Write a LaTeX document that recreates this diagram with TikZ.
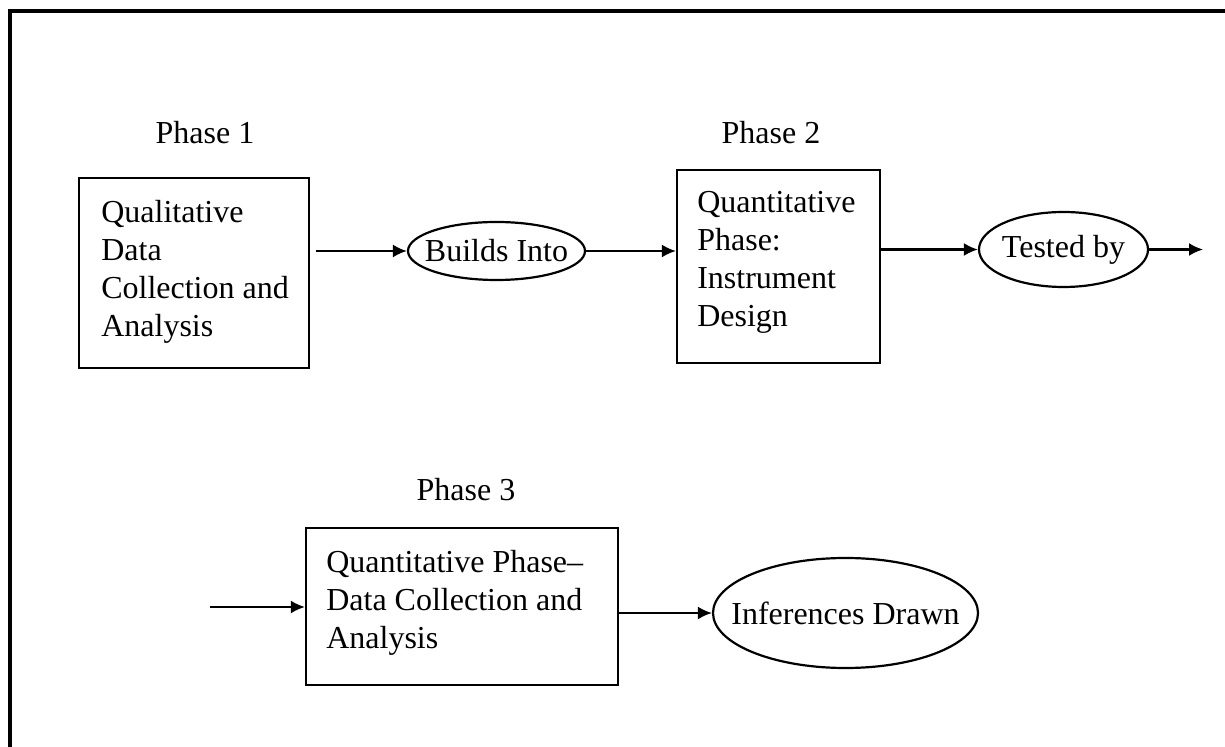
\documentclass[tikz,border=0pt]{standalone}
\usepackage{fontspec}
\setmainfont{Liberation Serif}
\usetikzlibrary{shapes.geometric,arrows.meta}
\tikzset{
  boxnode/.style={draw, line width=1.1pt, rectangle, inner sep=0pt},
  ovalnode/.style={draw, line width=1.1pt, ellipse, inner sep=0pt, font=\fontsize{16}{19}\selectfont},
  boxtext/.style={anchor=north west, inner sep=0pt, align=left, font=\fontsize{16}{19}\selectfont},
  phaselabel/.style={inner sep=0pt, font=\fontsize{16}{19}\selectfont},
  arr/.style={line width=1.1pt, -{Latex[length=7pt,width=6.5pt]}},
  frame/.style={line width=1.6pt}
}
\begin{document}
\begin{tikzpicture}[x=0.5pt,y=-0.5pt]
\useasboundingbox (0,0) rectangle (1225,747);
\fill[white] (0,0) rectangle (1225,747);
% outer frame (top and left edges visible)
\coordinate (fa) at (10,760);
\coordinate (fb) at (10,11);
\coordinate (fc) at (1240,11);
\draw[frame] (fa) -- (fb) -- (fc);

% phase labels
\node[phaselabel] (p1) at (205,133) {Phase 1};
\node[phaselabel] (p2) at (771,133) {Phase 2};
\node[phaselabel] (p3) at (466,490) {Phase 3};

% boxes
\node[boxnode, minimum width=115pt, minimum height=95pt] (b1) at (194,273) {};
\node[boxtext] (b1t) at ([xshift=11.5pt,yshift=-11.3pt]b1.north west) {Qualitative\\Data\\Collection and\\Analysis};

\node[boxnode, minimum width=101.5pt, minimum height=96.5pt] (b2) at (778.5,266.5) {};
\node[boxtext] (b2t) at ([xshift=10.5pt,yshift=-10.8pt]b2.north west) {Quantitative\\Phase:\\Instrument\\Design};

\node[boxnode, minimum width=156pt, minimum height=78.5pt] (b3) at (462,606.5) {};
\node[boxtext] (b3t) at ([xshift=10.5pt,yshift=-11.5pt]b3.north west) {Quantitative Phase–\\Data Collection and\\Analysis};

% ellipses
\node[ovalnode, minimum width=88.5pt, minimum height=29pt] (bi) at (496.5,251) {\makebox[0pt]{Builds Into}};
\node[ovalnode, minimum width=84.5pt, minimum height=37.5pt] (tb) at (1063.5,249.5) {\makebox[0pt]{Tested by}};
\node[ovalnode, minimum width=132.5pt, minimum height=55pt] (inf) at (845.5,613) {\makebox[0pt]{Inferences Drawn}};

% free ends
\coordinate (e1) at (1203,249.5);
\coordinate (s3) at (210,607);

% connectors
\draw[arr, shorten <=3pt] (b1.east |- bi.west) -- (bi.west);
\draw[arr] (bi.east) -- (b2.west |- bi.east);
\draw[arr] (b2.east |- tb.west) -- (tb.west);
\draw[arr] (tb.east) -- (e1);
\draw[arr] (s3) -- (b3.west |- s3);
\draw[arr] (b3.east |- inf.west) -- (inf.west);
\end{tikzpicture}
\end{document}
